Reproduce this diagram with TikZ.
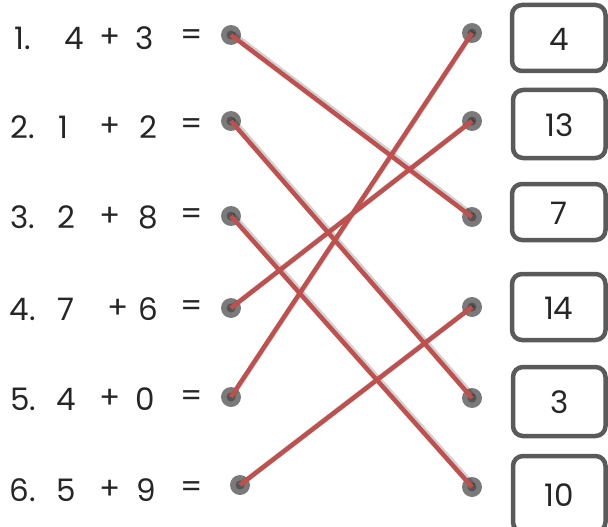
\documentclass[tikz,border=0pt]{standalone}
\usepackage{fontspec}
\setmainfont{Poppins}
\definecolor{linered}{HTML}{C0504D}
\definecolor{dotouter}{HTML}{7A7A7A}
\definecolor{dotinner}{HTML}{555555}
\definecolor{boxgray}{HTML}{5A5A5A}
\begin{document}
\begin{tikzpicture}[x=1pt,y=-1pt,
  txt/.style={inner sep=0pt,font=\fontsize{31}{36}\selectfont,text=black!85},
  dotnode/.style={circle,fill=dotouter,minimum size=20pt,inner sep=0pt},
  ansbox/.style={draw=boxgray,line width=4.5pt,rounded corners=10pt,fill=white},
  link/.style={draw=linered,line width=4.5pt},
  shadowlink/.style={draw=black,opacity=0.18,line width=5pt}]
\useasboundingbox[fill=white] (0,0) rectangle (608,527);
% equations
\foreach \r/\y/\n/\a/\ax/\p/\b/\bx in {1/38/1./4/74/110/3/145, 2/127/2./1/63/110/2/148, 3/217/3./2/66/110/8/148, 4/309/4./7/66/118/6/148, 5/399/5./4/66/110/0/145, 6/490/6./5/66/110/9/146}{
  \node[txt] (num\r) at (23,\y) {\n};
  \node[txt] (a\r) at (\ax,\y) {\a};
  \node[txt] (plus\r) at (\p,\y) {+};
  \node[txt] (b\r) at (\bx,\y) {\b};
  \node[txt] (eq\r) at (192,\y) {=};
}
% dots
\foreach \r/\x/\y in {1/231/35, 2/231/121, 3/231/216, 4/231/308, 5/231/397, 6/240/485}{
  \node[dotnode] (l\r) at (\x,\y) {};
  \fill[dotinner] (l\r.center) circle (4.5pt);
}
\foreach \r/\y in {1/33, 2/121, 3/217, 4/307, 5/398, 6/487}{
  \node[dotnode] (r\r) at (472,\y) {};
  \fill[dotinner] (r\r.center) circle (4.5pt);
}
% answer boxes
\foreach \r/\t/\bt/\bb/\v in {1/512/5/71/4, 2/513/90/158/13, 3/512/184/240/7, 4/512/274/340/14, 5/513/367/436/3, 6/513/456/532/10}{
  \draw[ansbox] (\t,\bt) rectangle (605.5,\bb);
  \node[txt] (box\r) at ({(\t+605.5)/2},{(\bt+\bb)/2+1}) {\v};
}
% connectors
\foreach \s/\e in {l1/r3, l2/r5, l3/r6, l4/r2, l5/r1, l6/r4}{
  \draw[shadowlink] ([shift={(1.5pt,1.5pt)}]\s.center) -- ([shift={(1.5pt,1.5pt)}]\e.center);
}
\foreach \s/\e in {l1/r3, l2/r5, l3/r6, l4/r2, l5/r1, l6/r4}{
  \draw[link] (\s.center) -- (\e.center);
}
\end{tikzpicture}
\end{document}
